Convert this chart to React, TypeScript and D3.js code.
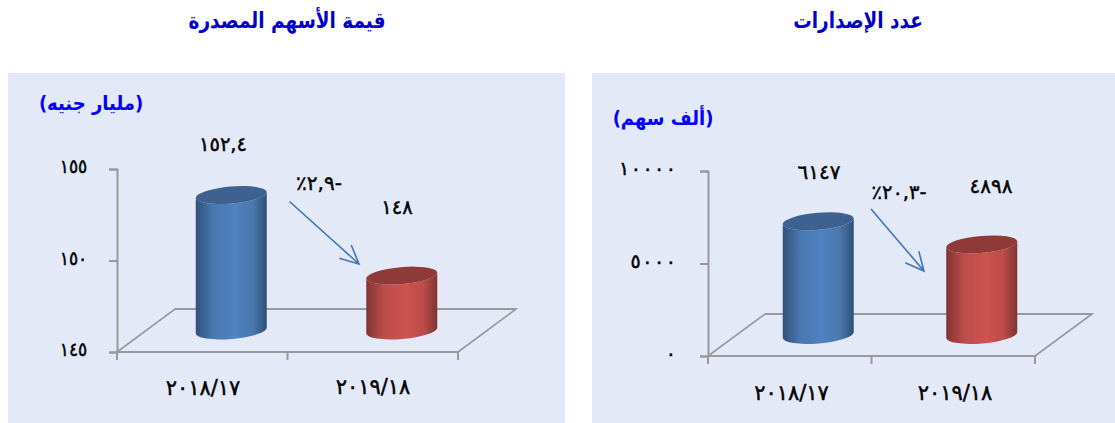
import React, { useEffect, useRef } from 'react';
import * as d3 from 'd3';

// chart data
const categories = ['٢٠١٨/١٧', '٢٠١٩/١٨'];
const issueValues = [6147, 4898];
const issueTicks = [0, 5000, 10000];
const stockValues = [152.4, 148];
const stockTicks = [145, 150, 155];

const barFills = ['blueBody', 'redBody'];
const barTops = ['#3d6290', '#8f3a38'];

const arabic = d3.formatLocale({
    decimal: ',',
    thousands: '',
    grouping: [3],
    currency: ['', ''],
    numerals: ['٠', '١', '٢', '٣', '٤', '٥', '٦', '٧', '٨', '٩'],
});

const panels = [
    {
        title: 'قيمة الأسهم المصدرة',
        titleX: 287,
        unit: '(مليار جنيه)',
        unitX: 91,
        unitY: 110,
        change: '-٢,٩٪',
        changeX: 319,
        changeY: 190,
        changeSize: 20,
        bg: [8, 565],
        xRange: [117, 458],
        yRange: [352, 169],
        depth: [58, 43],
        values: stockValues,
        ticks: stockTicks,
        tickScale: 0.9,
        tickDigitW: 0,
        tickPadding: 25,
        domain: [145, 155],
        fmt: ['.1f', 'd'],
        valueSize: 19.5,
        catSize: 21,
        labelPos: [[223, 151], [397, 214]],
        catY: [395, 394],
        catX: [203, 373],
        arrow: [[289.5, 201.5], [359, 264]],
    },
    {
        title: 'عدد الإصدارات',
        titleX: 858,
        unit: '(ألف سهم)',
        unitX: 663,
        unitY: 125,
        change: '-٢٠,٣٪',
        changeX: 899,
        changeY: 199,
        changeSize: 19.5,
        bg: [592, 1115],
        xRange: [708, 1035],
        yRange: [356, 171],
        depth: [57, 42],
        values: issueValues,
        ticks: issueTicks,
        tickScale: 1,
        tickDigitW: 11.4,
        tickPadding: 24,
        domain: [0, 10000],
        fmt: ['d', 'd'],
        valueSize: 20,
        catSize: 21,
        labelPos: [[819, 179], [991, 193]],
        catY: [400, 400],
        catX: [791.5, 955],
        arrow: [[871, 209], [924, 271]],
    },
];

const FONT = '"DejaVu Sans", sans-serif';

// the original face is narrow and tall, so squeeze the text sideways
function label(svg, str, x, y, size, sx, fill, weight = 'bold') {
    const t = svg.append('text')
        .text(str)
        .attr('transform', `translate(${x},${y}) scale(${sx},1)`)
        .attr('text-anchor', 'middle')
        .attr('direction', 'rtl')
        .style('font', `${weight} ${size}px ${FONT}`)
        .attr('fill', fill);
    if (weight !== 'bold') t.attr('stroke', fill).attr('stroke-width', 0.45);
    return t;
}

function drawPanel(svg, p) {
    svg.append('rect')
        .attr('x', p.bg[0]).attr('y', 73)
        .attr('width', p.bg[1] - p.bg[0]).attr('height', 350)
        .attr('fill', '#e4e9f7');

    label(svg, p.title, p.titleX, 28, 22, 0.84, '#0000cc');
    label(svg, p.unit, p.unitX, p.unitY, 20, 0.9, '#0000ff');

    const x = d3.scaleBand().domain(categories).range(p.xRange);
    const y = d3.scaleLinear().domain(p.domain).range(p.yRange);
    const [x0, x1] = p.xRange;
    const y0 = p.yRange[0];
    const [dx, dy] = p.depth;

    // floor of the 3d plot
    const floor = d3.line()([[x0, y0], [x0 + dx, y0 - dy], [x1 + dx, y0 - dy], [x1, y0]]);
    svg.append('path').attr('d', floor).attr('fill', 'none').attr('stroke', '#999').attr('stroke-width', 1.6);
    // heavier back edge
    svg.append('line')
        .attr('x1', x0 + dx).attr('x2', x1 + dx)
        .attr('y1', y0 - dy).attr('y2', y0 - dy)
        .attr('stroke', '#999').attr('stroke-width', 2);

    const yAxis = d3.axisLeft(y)
        .tickValues(p.ticks)
        .tickSize(8)
        .tickPadding(p.tickPadding)
        .tickFormat(arabic.format('d'));
    const xAxis = d3.axisBottom(x).tickSize(0).tickPadding(0).tickFormat(() => '');

    const gy = svg.append('g').attr('transform', `translate(${x0},0)`).call(yAxis);
    gy.select('.domain').attr('stroke', '#999').attr('stroke-width', 2);
    gy.selectAll('.tick line').attr('stroke', '#999').attr('stroke-width', 2);
    gy.selectAll('.tick text')
        .attr('fill', '#000')
        .attr('stroke', '#000')
        .attr('stroke-width', 0.45)
        .attr('dy', '0.2em')
        .attr('transform', `scale(${p.tickScale},1)`)
        .style('font', `normal 19px ${FONT}`);
    // the right hand ticks are spread out wide in the original
    if (p.tickDigitW) {
        gy.selectAll('.tick text')
            .filter(d => d > 0)
            .attr('textLength', d => String(d).length * p.tickDigitW);
    }

    const gx = svg.append('g').attr('transform', `translate(0,${y0})`).call(xAxis);
    gx.select('.domain').attr('stroke', '#999').attr('stroke-width', 2).attr('d', `M${x0},0H${x1}`);
    const edges = [x0, x0 + x.bandwidth(), x1];
    gx.selectAll('.edge').data(edges).enter().append('line')
        .attr('x1', d => d).attr('x2', d => d)
        .attr('y1', 0).attr('y2', 8)
        .attr('stroke', '#999').attr('stroke-width', 2);

    // cylinders stand half way back on the floor
    const halfW = 35.5;
    const tilt = 3;
    const ry = 8.5;
    const rot = (-Math.atan2(tilt, halfW) * 180) / Math.PI;
    p.values.forEach((v, i) => {
        const cx = x(categories[i]) + x.bandwidth() / 2 + dx / 2;
        const top = y(v) - dy / 2;
        const base = y0 - dy / 2;
        const rx = Math.hypot(halfW, tilt);
        const body =
            `M${cx - halfW},${top + tilt}` +
            `L${cx - halfW},${base + tilt}` +
            `A${rx},${ry} ${rot} 0 0 ${cx + halfW},${base - tilt}` +
            `L${cx + halfW},${top - tilt}` +
            `A${rx},${ry} ${rot} 0 1 ${cx - halfW},${top + tilt}Z`;
        svg.append('path').attr('d', body).attr('fill', `url(#${barFills[i]})`);
        const cap =
            `M${cx - halfW},${top + tilt}` +
            `A${rx},${ry} ${rot} 1 1 ${cx + halfW},${top - tilt}` +
            `A${rx},${ry} ${rot} 1 1 ${cx - halfW},${top + tilt}Z`;
        svg.append('path').attr('d', cap).attr('fill', barTops[i]);

        label(svg, arabic.format(p.fmt[i])(v), p.labelPos[i][0], p.labelPos[i][1], p.valueSize, 1, '#000', 'normal')
            .attr('direction', 'ltr');
        label(svg, categories[i], p.catX[i], p.catY[i], p.catSize, 1, '#000', 'normal')
            .attr('direction', 'ltr');
    });

    // change annotation
    label(svg, p.change, p.changeX, p.changeY, p.changeSize, 1, '#000', 'normal');

    const [from, tip] = p.arrow;
    const ang = Math.atan2(tip[1] - from[1], tip[0] - from[0]);
    const barb = a => [tip[0] - 20.5 * Math.cos(ang + a), tip[1] - 20.5 * Math.sin(ang + a)];
    const arrowLine = d3.line();
    svg.append('path')
        .attr('d', arrowLine([from, tip]) + arrowLine([barb(0.45), tip, barb(-0.45)]))
        .attr('fill', 'none')
        .attr('stroke', '#3f77b8')
        .attr('stroke-width', 1.6);
}

export default function App() {
    const ref = useRef(null);

    useEffect(() => {
        const svg = d3.select(ref.current);
        svg.selectAll('*').remove();

        const defs = svg.append('defs');
        const grads = [
            ['blueBody', ['#30527a', '#4a78b0', '#5082c0', '#4a78ae', '#2f5078']],
            ['redBody', ['#803432', '#bd4d4a', '#cd5350', '#bd4c4a', '#7e3331']],
        ];
        grads.forEach(([id, stops]) => {
            const g = defs.append('linearGradient').attr('id', id);
            [0, 0.25, 0.55, 0.8, 1].forEach((o, i) => {
                g.append('stop').attr('offset', o).attr('stop-color', stops[i]);
            });
        });

        panels.forEach(p => drawPanel(svg, p));
    }, []);

    return (
        <svg
            ref={ref}
            width={1115}
            height={423}
            style={{ position: 'absolute', left: 0, top: 0, display: 'block', background: '#fff' }}
        />
    );
}
